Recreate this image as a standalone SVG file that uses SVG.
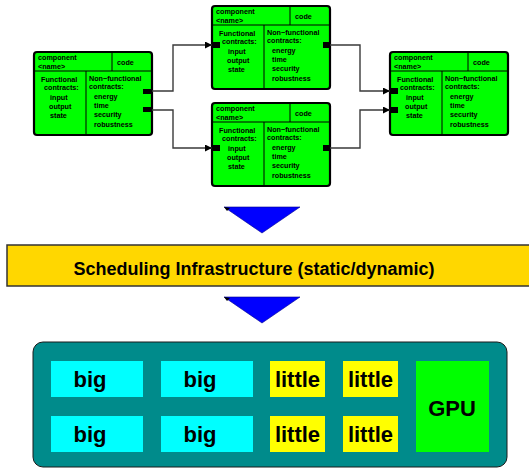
<svg xmlns="http://www.w3.org/2000/svg" width="529" height="469" viewBox="0 0 529 469">
<style>
text{font-family:"Liberation Sans",Arial,sans-serif;font-weight:bold;fill:#000}
.c{font-size:7.2px}
.box{fill:#00ff00;stroke:#000;stroke-width:2.2}
.ln{stroke:#000;stroke-width:1;fill:none}
.port{fill:#000}
.con{fill:none;stroke:#3a3a3a;stroke-width:1.4}
.big{fill:#00ffff}
.lit{fill:#ffff00}
.cell{font-size:22px;text-anchor:middle}
</style>
<defs>
<marker id="ah" viewBox="0 0 10 10" refX="10" refY="5" markerWidth="7" markerHeight="7" markerUnits="userSpaceOnUse" orient="auto">
<path d="M0,0L10,5L0,10z" fill="#000"/>
</marker>
<g id="comp">
<rect class="box" x="0" y="0" width="118" height="83" rx="3"/>
<line class="ln" x1="0" y1="19" x2="118" y2="19"/>
<line class="ln" x1="78" y1="0" x2="78" y2="19"/>
<line class="ln" x1="52" y1="19" x2="52" y2="83"/>
<text class="c" x="4" y="8">component</text>
<text class="c" x="4" y="16.5">&lt;name&gt;</text>
<text class="c" x="83" y="13">code</text>
<text class="c" x="7" y="30">Functional</text>
<text class="c" x="10" y="38">contracts:</text>
<text class="c" x="16" y="48">input</text>
<text class="c" x="15" y="57">output</text>
<text class="c" x="16" y="66">state</text>
<text class="c" x="55" y="29">Non−functional</text>
<text class="c" x="55" y="37">contracts:</text>
<text class="c" x="60" y="47">energy</text>
<text class="c" x="60" y="56">time</text>
<text class="c" x="60" y="65">security</text>
<text class="c" x="60" y="75">robustness</text>
</g>
</defs>

<g id="comp1" transform="translate(34,52)">
<use href="#comp"/>
<rect class="port" x="109" y="37" width="9" height="5"/>
<rect class="port" x="109" y="55" width="9" height="5"/>
</g>
<g id="comp2" transform="translate(212,6)">
<use href="#comp"/>
<rect class="port" x="0" y="36" width="8" height="6"/>
<rect class="port" x="111" y="36" width="7" height="6"/>
</g>
<g id="comp3" transform="translate(212,103)">
<use href="#comp"/>
<rect class="port" x="0" y="42" width="8" height="6"/>
<rect class="port" x="111" y="42" width="7" height="6"/>
</g>
<g id="comp4" transform="translate(390,52)">
<use href="#comp"/>
<rect class="port" x="0" y="36" width="8" height="6"/>
<rect class="port" x="0" y="55" width="8" height="6"/>
</g>

<g id="connectors">
<polyline class="con" points="152,91 173,91 173,45 212,45" marker-end="url(#ah)"/>
<polyline class="con" points="152,110 173,110 173,148 212,148" marker-end="url(#ah)"/>
<polyline class="con" points="330,45 360,45 360,91 390,91" marker-end="url(#ah)"/>
<polyline class="con" points="330,148 360,148 360,110 390,110" marker-end="url(#ah)"/>
</g>

<g id="arrow1">
<polygon points="224,207 300,207 262,233" fill="#0000ff" stroke="#00008a" stroke-width="0.6"/>
<polygon points="224,207 230,208 227,211" fill="#000"/>
</g>
<g id="sched">
<rect x="7" y="245" width="530" height="41" fill="#ffd700" stroke="#333" stroke-width="1.5"/>
<text x="254" y="275" font-size="18" text-anchor="middle">Scheduling Infrastructure (static/dynamic)</text>
</g>
<g id="arrow2">
<polygon points="224,297 300,297 262,323" fill="#0000ff" stroke="#00008a" stroke-width="0.6"/>
<polygon points="224,297 230,298 227,301" fill="#000"/>
</g>

<g id="platform">
<rect x="33" y="342" width="474" height="125" rx="10" fill="#008b8b" stroke="#1a1a1a" stroke-width="1"/>
</g>
<g id="big1"><rect class="big" x="51" y="361" width="92" height="36"/><text class="cell" x="90" y="387">big</text></g>
<g id="big2"><rect class="big" x="161" y="361" width="92" height="36"/><text class="cell" x="200" y="387">big</text></g>
<g id="little1"><rect class="lit" x="270" y="361" width="55" height="36"/><text class="cell" x="297.5" y="387">little</text></g>
<g id="little2"><rect class="lit" x="343" y="361" width="55" height="36"/><text class="cell" x="370.5" y="387">little</text></g>
<g id="big3"><rect class="big" x="51" y="416" width="92" height="36"/><text class="cell" x="90" y="442">big</text></g>
<g id="big4"><rect class="big" x="161" y="416" width="92" height="36"/><text class="cell" x="200" y="442">big</text></g>
<g id="little3"><rect class="lit" x="270" y="416" width="55" height="36"/><text class="cell" x="297.5" y="442">little</text></g>
<g id="little4"><rect class="lit" x="343" y="416" width="55" height="36"/><text class="cell" x="370.5" y="442">little</text></g>
<g id="gpu"><rect x="416" y="361" width="73" height="91" fill="#00ff00"/><text class="cell" x="452" y="416">GPU</text></g>
</svg>
